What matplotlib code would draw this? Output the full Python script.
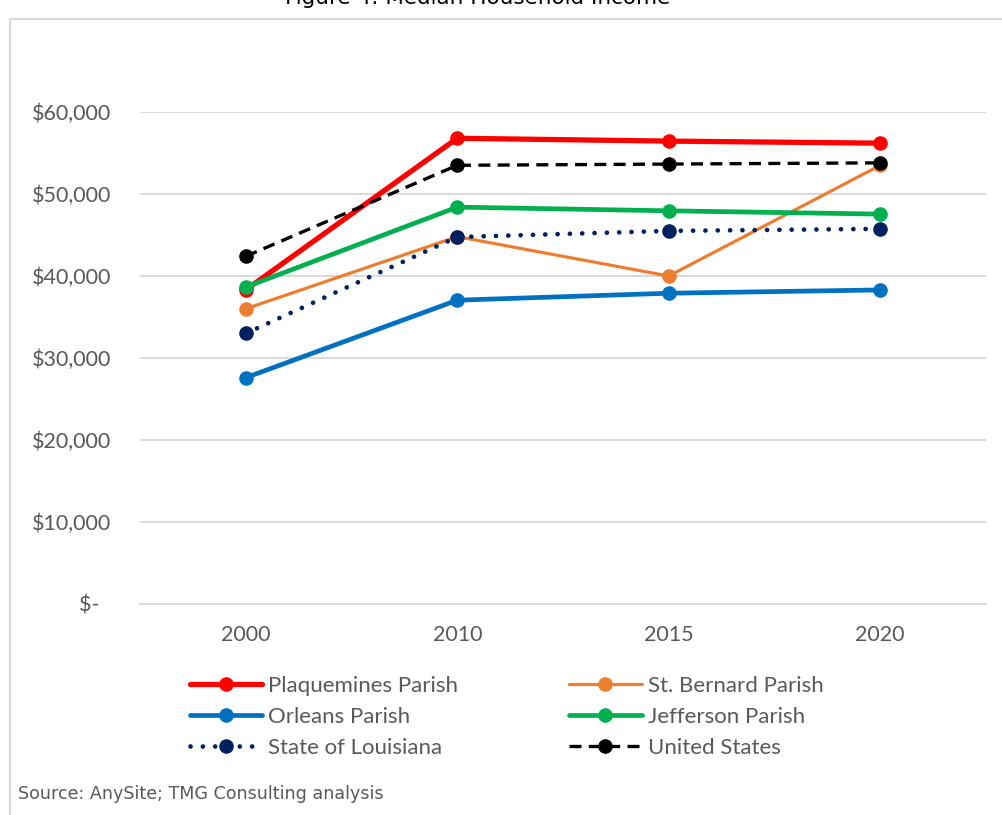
import matplotlib
matplotlib.use("Agg")
import matplotlib.pyplot as plt
from matplotlib.lines import Line2D

# data
years = ["2000", "2010", "2015", "2020"]
plaquemines = [38300, 56800, 56450, 56200]
st_bernard = [36000, 44800, 40000, 53500]
orleans = [27600, 37050, 37900, 38300]
jefferson = [38650, 48400, 47950, 47550]
louisiana = [33000, 44750, 45500, 45750]
united_states = [42400, 53500, 53650, 53800]

yticks = [0, 10000, 20000, 30000, 40000, 50000, 60000]
ytick_labels = ["$-  ", "$10,000", "$20,000", "$30,000", "$40,000", "$50,000", "$60,000"]

tick_font = ["Lato", "DejaVu Sans"]
grey_text = "#595959"
grid_col = "#d9d9d9"

fig = plt.figure(figsize=(10.02, 8.15), dpi=100)
ax = fig.add_axes([140 / 1002, 1 - 604 / 815, 846 / 1002, 492 / 815])

x = list(range(len(years)))
series = [
    ("Plaquemines Parish", plaquemines, "#ff0000", 3.8, "-"),
    ("St. Bernard Parish", st_bernard, "#ed7d31", 2.3, "-"),
    ("Orleans Parish", orleans, "#0070c0", 3.4, "-"),
    ("Jefferson Parish", jefferson, "#00b050", 3.4, "-"),
    ("State of Louisiana", louisiana, "#002060", 3.4, (0, (0.01, 2.6))),
    ("United States", united_states, "#000000", 2.4, (0, (3.6, 2.2))),
]
handles = {}
for name, vals, col, lw, ls in series:
    ln, = ax.plot(x, vals, color=col, lw=lw, ls=ls, marker="o", ms=10.5,
                  markeredgewidth=0, label=name, solid_capstyle="round",
                  dash_capstyle="round" if name == "State of Louisiana" else "butt")
    handles[name] = ln

ax.set_xlim(-0.5, 3.5)
ax.set_ylim(0, 60000)
ax.set_yticks(yticks)
ax.set_yticklabels(ytick_labels)
ax.set_xticks(x)
ax.set_xticklabels(years)
ax.grid(axis="y", color=grid_col, lw=1.4)
ax.set_axisbelow(True)
for s in ["top", "right", "left"]:
    ax.spines[s].set_visible(False)
ax.spines["bottom"].set_color(grid_col)
ax.spines["bottom"].set_linewidth(1.4)
ax.tick_params(axis="both", length=0, labelsize=15.5, labelcolor=grey_text)
ax.tick_params(axis="y", pad=21)
ax.tick_params(axis="x", pad=15)
for lab in ax.get_xticklabels() + ax.get_yticklabels():
    lab.set_family(tick_font)

# legend in row order: two columns
order = ["Plaquemines Parish", "Orleans Parish", "State of Louisiana",
         "St. Bernard Parish", "Jefferson Parish", "United States"]
leg = fig.legend([handles[n] for n in order], order, ncol=2,
                 loc="upper left", bbox_to_anchor=(190 / 1002, 1 - 676 / 815),
                 frameon=False, prop={"family": tick_font, "size": 16},
                 handlelength=3.25, handletextpad=0.27, columnspacing=5.0,
                 labelspacing=0.49, borderaxespad=0, borderpad=0)
for t in leg.get_texts():
    t.set_color(grey_text)

# outer frame (left and top edges visible)
fig.add_artist(Line2D([9.5 / 1002, 9.5 / 1002], [0, 1 - 18.5 / 815],
                      transform=fig.transFigure, color=grid_col, lw=1.6))
fig.add_artist(Line2D([9.5 / 1002, 1], [1 - 18.5 / 815, 1 - 18.5 / 815],
                      transform=fig.transFigure, color=grid_col, lw=1.6))

# title clipped by the top edge, as in the reference
fig.text(478 / 1002, 1 - 4 / 815, "Figure 4: Median Household Income",
         ha="center", va="baseline", fontsize=15.5, color="#000000")

fig.text(18 / 1002, 1 - 794 / 815, "Source: AnySite; TMG Consulting analysis",
         ha="left", va="center", fontsize=12.6, color=grey_text)

fig.savefig("out.png", dpi=100)
